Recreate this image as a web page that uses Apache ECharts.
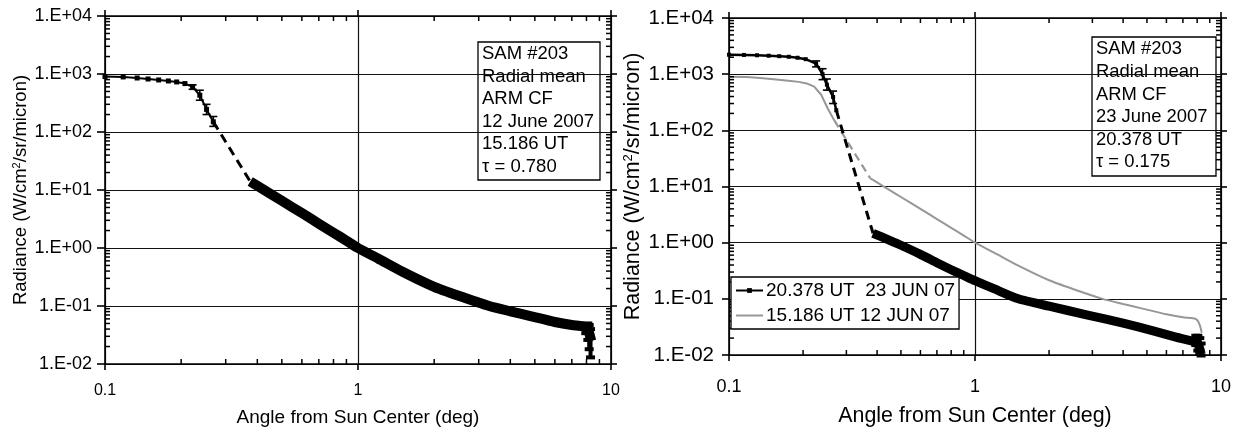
<!DOCTYPE html>
<html>
<head>
<meta charset="utf-8">
<script src="https://cdn.jsdelivr.net/npm/echarts@6/dist/echarts.min.js"></script>
<style>
html, body { margin: 0; padding: 0; background: #fff; }
#chart { width: 1239px; height: 432px; }
</style>
</head>
<body>
<div id="chart"></div>
<script>
// ---- 12 June 2007, 15.186 UT (tau = 0.780) ----
// solar disk / aureole edge, sampled points with markers
const jun12CoreAngle = [0.1, 0.118, 0.134, 0.148, 0.163, 0.178, 0.192, 0.207, 0.222, 0.237, 0.252, 0.268];
const jun12CoreRad   = [902, 890, 853, 820, 789, 758, 729, 684, 598, 430, 245, 150];
const jun12ErrAngle  = [0.222, 0.237, 0.252, 0.268];
const jun12ErrLow    = [545, 353, 200, 125];
const jun12ErrHigh   = [650, 525, 300, 185];
// scatter at the outer edge of the scan
const jun12EdgeAngle = [7.95, 8.1, 8.2, 8.3];
const jun12EdgeLow   = [0.034, 0.026, 0.018, 0.013];
const jun12EdgeHigh  = [0.049, 0.050, 0.047, 0.040];
// gap bridged with a dashed line
const jun12GapAngle  = [0.268, 0.375];
const jun12GapRad    = [150, 14];
// aureole, densely sampled
const jun12AurAngle  = [0.375, 0.40, 0.45, 0.50, 0.60, 0.70, 0.80, 0.90, 1.0, 1.2, 1.5, 2.0, 2.5, 3.3, 4.0, 4.8, 6.0, 7.0, 7.7, 8.0, 8.2, 8.35];
const jun12AurRad    = [14, 11.8, 8.6, 6.5, 4.0, 2.63, 1.84, 1.34, 1.0, 0.66, 0.39, 0.214, 0.15, 0.10, 0.081, 0.067, 0.053, 0.047, 0.045, 0.042, 0.034, 0.025];

// ---- 23 June 2007, 20.378 UT (tau = 0.175) ----
const jun23CoreAngle = [0.1, 0.115, 0.13, 0.145, 0.16, 0.175, 0.19, 0.205, 0.226, 0.24, 0.25, 0.265, 0.273];
const jun23CoreRad   = [2220, 2200, 2170, 2130, 2090, 2040, 1960, 1850, 1540, 1000, 650, 392, 228];
const jun23ErrAngle  = [0.226, 0.24, 0.25, 0.265];
const jun23ErrLow    = [1350, 800, 520, 300];
const jun23ErrHigh   = [1720, 1250, 820, 500];
const jun23EdgeAngle = [7.9, 8.05, 8.2, 8.3];
const jun23EdgeLow   = [0.015, 0.012, 0.0105, 0.0098];
const jun23EdgeHigh  = [0.022, 0.022, 0.02, 0.016];
const jun23GapAngle  = [0.273, 0.385];
const jun23GapRad    = [228, 1.47];
const jun23AurAngle  = [0.385, 0.45, 0.5, 0.6, 0.7, 0.8, 0.9, 1.0, 1.2, 1.5, 2.0, 2.84, 4.0, 5.3, 6.5, 7.7, 8.0, 8.2, 8.3];
const jun23AurRad    = [1.47, 1.1, 0.9, 0.62, 0.44, 0.33, 0.26, 0.21, 0.15, 0.1, 0.074, 0.052, 0.037, 0.027, 0.021, 0.0175, 0.016, 0.013, 0.0105];

// ---- axes ----
const xMin = 0.1, xMax = 10;
const yMin = 0.01, yMax = 10000;
// minor tick positions (2..9 within each decade)
const xMinor = [0.2, 0.3, 0.4, 0.5, 0.6, 0.7, 0.8, 0.9, 2, 3, 4, 5, 6, 7, 8, 9];
const yMinor = [
  0.02, 0.03, 0.04, 0.05, 0.06, 0.07, 0.08, 0.09,
  0.2, 0.3, 0.4, 0.5, 0.6, 0.7, 0.8, 0.9,
  2, 3, 4, 5, 6, 7, 8, 9,
  20, 30, 40, 50, 60, 70, 80, 90,
  200, 300, 400, 500, 600, 700, 800, 900,
  2000, 3000, 4000, 5000, 6000, 7000, 8000, 9000
];

const legendNames = ['20.378 UT  23 JUN 07', '15.186 UT 12 JUN 07'];
const box12 = ['SAM #203', 'Radial mean', 'ARM CF', '12 June 2007', '15.186 UT', 'τ = 0.780'];
const box23 = ['SAM #203', 'Radial mean', 'ARM CF', '23 June 2007', '20.378 UT', 'τ = 0.175'];
const xTitle = 'Angle from Sun Center (deg)';
const yTitle = 'Radiance (W/cm{sup|2}/sr/micron)';

const FONT = '"Liberation Sans", Arial, Helvetica, sans-serif';
const zip = (a, b) => a.map((v, i) => [v, b[i]]);
const zip3 = (a, b, c) => a.map((v, i) => [v, b[i], c[i]]);

function sciLabel(v) {
  const e = Math.round(Math.log10(v));
  return '1.E' + (e < 0 ? '-' : '+') + String(Math.abs(e)).padStart(2, '0');
}
function plainLabel(v) {
  return String(+Number(v).toPrecision(2));
}

const tickStyle = { color: '#000', width: 1.6 };

// per panel: bottom (labelled), top, left (labelled), right
function panelAxes(g, s) {
  const line = { show: true, lineStyle: { color: '#000', width: 1.6 } };
  const xs = [
    {
      type: 'log', gridIndex: g, min: xMin, max: xMax, position: 'bottom',
      axisLine: line,
      axisTick: { show: true, inside: false, length: 6, lineStyle: tickStyle },
      axisLabel: { formatter: plainLabel, margin: s.xLabelMargin, fontSize: s.xLabelSize, color: '#000', fontFamily: FONT },
      splitLine: { show: true, lineStyle: { color: '#111', width: 1.2 } },
      name: xTitle, nameLocation: 'middle', nameGap: s.xNameGap,
      nameTextStyle: { fontSize: s.xNameSize, color: '#000', fontFamily: FONT }
    },
    {
      type: 'log', gridIndex: g, min: xMin, max: xMax, position: 'top',
      axisLine: line,
      axisTick: { show: true, inside: false, length: 6, lineStyle: tickStyle },
      axisLabel: { show: false }, splitLine: { show: false }
    }
  ];
  const ys = [
    {
      type: 'log', gridIndex: g, min: yMin, max: yMax, position: 'left',
      axisLine: line,
      axisTick: { show: true, inside: false, length: s.yTickLen, lineStyle: tickStyle },
      axisLabel: { formatter: sciLabel, margin: s.yLabelMargin, fontSize: s.yLabelSize, color: '#000', fontFamily: FONT },
      splitLine: { show: true, lineStyle: { color: '#111', width: 1.2 } },
      name: yTitle, nameLocation: 'middle', nameGap: s.yNameGap,
      nameTextStyle: {
        fontSize: s.yNameSize, color: '#000', fontFamily: FONT,
        rich: { sup: { fontSize: Math.round(s.yNameSize * 0.62), verticalAlign: 'top', color: '#000', fontFamily: FONT, padding: [0, 0, s.yNameSize * 0.45, 0] } }
      }
    },
    {
      type: 'log', gridIndex: g, min: yMin, max: yMax, position: 'right',
      axisLine: line,
      axisTick: { show: true, inside: false, length: 6, lineStyle: tickStyle },
      axisLabel: { show: false }, splitLine: { show: false }
    }
  ];
  return { xs, ys };
}

function errorBarSeries(xi, yi, rows, capW, lw) {
  return {
    type: 'custom', xAxisIndex: xi, yAxisIndex: yi, data: rows, clip: false, silent: true, z: 3,
    encode: { x: 0, y: [1, 2] },
    renderItem(params, api) {
      const top = api.coord([api.value(0), api.value(2)]);
      const bot = api.coord([api.value(0), api.value(1)]);
      const h = capW / 2;
      const st = { stroke: '#000', lineWidth: lw };
      return { type: 'group', children: [
        { type: 'line', shape: { x1: top[0], y1: top[1], x2: bot[0], y2: bot[1] }, style: st },
        { type: 'line', shape: { x1: top[0] - h, y1: top[1], x2: top[0] + h, y2: top[1] }, style: st },
        { type: 'line', shape: { x1: bot[0] - h, y1: bot[1], x2: bot[0] + h, y2: bot[1] }, style: st }
      ] };
    }
  };
}

function textBox(x, y, w, h, lines, fontSize, lineHeight) {
  return {
    type: 'group', z: 50,
    children: [
      { type: 'rect', shape: { x: x, y: y, width: w, height: h }, style: { fill: '#fff', stroke: '#000', lineWidth: 1.3 } },
      { type: 'text', x: x + 4, y: y + 1, style: { text: lines.join('\n'), font: fontSize + 'px ' + FONT, lineHeight: lineHeight, fill: '#000', verticalAlign: 'top', align: 'left' } }
    ]
  };
}

const leftAxes = panelAxes(0, {
  xLabelMargin: 19, xLabelSize: 16, xNameGap: 44, xNameSize: 19,
  yLabelMargin: 13, yLabelSize: 18, yTickLen: 8, yNameGap: 72, yNameSize: 18.5
});
const rightAxes = panelAxes(1, {
  xLabelMargin: 23, xLabelSize: 18, xNameGap: 51, xNameSize: 21.4,
  yLabelMargin: 15, yLabelSize: 20.5, yTickLen: 7, yNameGap: 79, yNameSize: 21.5
});
// index of each panel's labelled x / y axis
const L = 0, R = 2;

const black = '#000';
const gray = '#979797';

const boxes = [
  textBox(478, 42, 122, 138, box12, 18.5, 22.5),
  textBox(1092, 37, 124, 139, box23, 18.4, 22.6)
];

const option = {
  animation: false,
  backgroundColor: '#fff',
  textStyle: { fontFamily: FONT, color: '#000' },
  grid: [
    { left: 105, top: 16, width: 506, height: 349, containLabel: false },
    { left: 729, top: 18, width: 492, height: 337, containLabel: false }
  ],
  xAxis: [...leftAxes.xs, ...rightAxes.xs],
  yAxis: [...leftAxes.ys, ...rightAxes.ys],
  legend: {
    data: [
      { name: legendNames[0] },
      { name: legendNames[1], itemStyle: { color: 'rgba(0,0,0,0)', borderWidth: 0 } }
    ],
    orient: 'vertical',
    left: 731, top: 277,
    backgroundColor: '#fff',
    borderColor: '#000', borderWidth: 1.3,
    padding: [4, 4, 4, 4],
    itemGap: 6, itemWidth: 27, itemHeight: 6,
    textStyle: { fontSize: 19, color: '#000', fontFamily: FONT, padding: [0, 0, 0, -2] },
    selectedMode: false,
    z: 60
  },
  graphic: boxes,
  series: [
    // left panel: 12 June 2007
    { type: 'line', name: 'jun12-core', xAxisIndex: L, yAxisIndex: L, data: zip(jun12CoreAngle, jun12CoreRad),
      symbol: 'rect', symbolSize: 5, showSymbol: true, lineStyle: { color: black, width: 2 }, itemStyle: { color: black }, z: 5 },
    { type: 'line', name: 'jun12-gap', xAxisIndex: L, yAxisIndex: L, data: zip(jun12GapAngle, jun12GapRad),
      symbol: 'none', lineStyle: { color: black, width: 3, type: [9, 6] }, z: 5 },
    { type: 'line', name: 'jun12-aureole', xAxisIndex: L, yAxisIndex: L, data: zip(jun12AurAngle, jun12AurRad),
      symbol: 'none', smooth: 0.2, lineStyle: { color: black, width: 10, cap: 'butt', join: 'round' }, z: 5 },
    errorBarSeries(L, L, zip3(jun12ErrAngle, jun12ErrLow, jun12ErrHigh), 8, 1.6),
    errorBarSeries(L, L, zip3(jun12EdgeAngle, jun12EdgeLow, jun12EdgeHigh), 9, 4),

    // right panel: 12 June 2007 in gray for comparison
    { type: 'line', name: 'jun12-core-gray', xAxisIndex: R, yAxisIndex: R, data: zip(jun12CoreAngle, jun12CoreRad),
      symbol: 'none', lineStyle: { color: gray, width: 2 }, z: 4 },
    { type: 'line', name: 'jun12-gap-gray', xAxisIndex: R, yAxisIndex: R, data: zip(jun12GapAngle, jun12GapRad),
      symbol: 'none', lineStyle: { color: gray, width: 2.2, type: [8, 5] }, z: 4 },
    { type: 'line', name: legendNames[1], xAxisIndex: R, yAxisIndex: R, data: zip(jun12AurAngle, jun12AurRad),
      symbol: 'none', smooth: 0.2, lineStyle: { color: gray, width: 2 }, itemStyle: { color: gray }, z: 4 },

    // right panel: 23 June 2007
    { type: 'line', name: legendNames[0], xAxisIndex: R, yAxisIndex: R, data: zip(jun23CoreAngle, jun23CoreRad),
      symbol: 'rect', symbolSize: 4, lineStyle: { color: black, width: 2.5 }, itemStyle: { color: black }, z: 5 },
    { type: 'line', name: 'jun23-gap', xAxisIndex: R, yAxisIndex: R, data: zip(jun23GapAngle, jun23GapRad),
      symbol: 'none', lineStyle: { color: black, width: 3, type: [9, 6] }, z: 5 },
    { type: 'line', name: 'jun23-aureole', xAxisIndex: R, yAxisIndex: R, data: zip(jun23AurAngle, jun23AurRad),
      symbol: 'none', smooth: 0.2, lineStyle: { color: black, width: 9, cap: 'butt', join: 'round' }, z: 5 },
    errorBarSeries(R, R, zip3(jun23ErrAngle, jun23ErrLow, jun23ErrHigh), 8, 1.6),
    errorBarSeries(R, R, zip3(jun23EdgeAngle, jun23EdgeLow, jun23EdgeHigh), 9, 4)
  ]
};

const chart = echarts.init(document.getElementById('chart'), null, { renderer: 'canvas' });
chart.setOption(option);

// inward minor ticks on all four sides of a panel; each position comes from
// the panel's own log axes (one axis at a time)
function minorTicks(axisIndex, tag) {
  const els = [];
  const toX = v => chart.convertToPixel({ xAxisIndex: axisIndex }, v);
  const toY = v => chart.convertToPixel({ yAxisIndex: axisIndex }, v);
  const left = toX(xMin), right = toX(xMax);
  const bottom = toY(yMin), top = toY(yMax);
  if (![left, right, bottom, top].every(Number.isFinite)) return els;
  const len = 5;
  const style = { stroke: '#000', lineWidth: 1.5 };
  let n = 0;
  const seg = (x1, y1, x2, y2) => els.push({
    type: 'line', id: tag + (n++), silent: true, z: 40,
    shape: { x1: x1, y1: y1, x2: x2, y2: y2 }, style: style
  });
  xMinor.forEach(v => {
    const x = toX(v);
    seg(x, bottom, x, bottom - len);
    seg(x, top, x, top + len);
  });
  yMinor.forEach(v => {
    const y = toY(v);
    seg(left, y, left + len, y);
    seg(right, y, right - len, y);
  });
  return els;
}

function addMinorTicks() {
  let ticks = [];
  try {
    ticks = minorTicks(L, 'tl').concat(minorTicks(R, 'tr'));
  } catch (e) {
    ticks = [];
  }
  if (ticks.length) {
    chart.setOption({ graphic: ticks });
  }
}
addMinorTicks();
</script>
</body>
</html>
